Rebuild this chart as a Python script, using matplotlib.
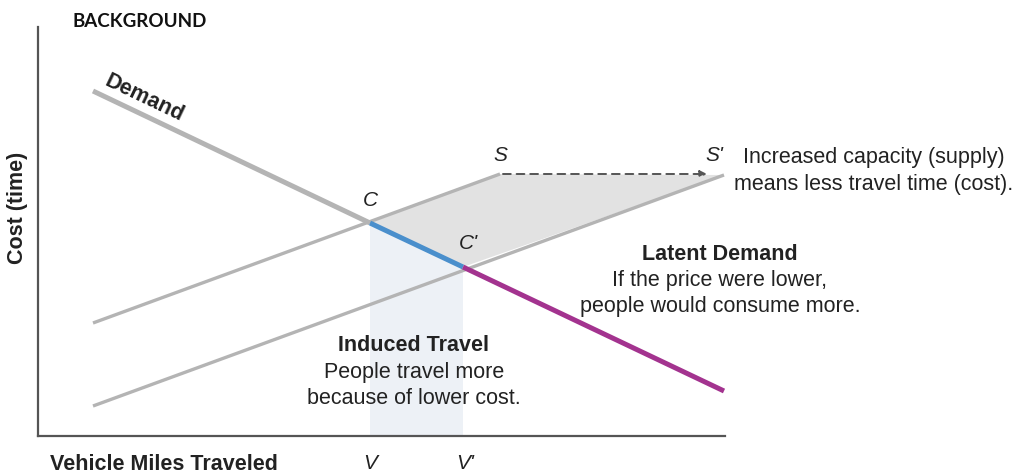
import matplotlib
matplotlib.use("Agg")
import matplotlib.pyplot as plt
from matplotlib.patches import Polygon

plt.rcParams['font.family'] = ['Liberation Sans', 'DejaVu Sans']

# --- diagram geometry (picture pixels, y grows downward)
demand_x = [93, 370, 463, 724]
demand_y = [92, 224, 268, 392]
supply_x = [93, 500]
supply_y = [324, 175]
supply2_x = [93, 724]
supply2_y = [407, 176]
point_labels = ["C", "C'", "S", "S'"]
vmt_labels = ["V", "V'"]

GRAY = "#b4b4b4"
BLUE = "#4a8fcc"
MAGENTA = "#a3338f"
TXT = "#222222"

W, H = 1023, 477
X0, X1, Y0, Y1 = 38, 725, 437, 28

fig = plt.figure(figsize=(W / 100, H / 100), dpi=100)
ax = fig.add_axes([X0 / W, (H - Y0) / H, (X1 - X0) / W, (Y0 - Y1) / H])
ax.set_xlim(X0, X1)
ax.set_ylim(Y0, Y1)
ax.set_xticks([])
ax.set_yticks([])
for s in ("top", "right"):
    ax.spines[s].set_visible(False)
for s in ("left", "bottom"):
    ax.spines[s].set_color("#555555")
    ax.spines[s].set_linewidth(1.6)

# light blue band under C-C'
ax.add_patch(Polygon([(demand_x[1], demand_y[1]), (demand_x[2], demand_y[2]),
                      (demand_x[2], Y0), (demand_x[1], Y0)],
                     closed=True, facecolor="#edf1f6", edgecolor="none", zorder=1))
# gray area between supply curves
ax.add_patch(Polygon([(demand_x[1], demand_y[1]), (supply_x[1], supply_y[1]),
                      (supply2_x[1], supply2_y[1]), (demand_x[2], demand_y[2])],
                     closed=True, facecolor="#e2e2e2", edgecolor="none", zorder=1))

ax.plot(supply_x, supply_y, color=GRAY, lw=2.4, solid_capstyle="butt", zorder=2)
ax.plot(supply2_x, supply2_y, color=GRAY, lw=2.4, solid_capstyle="butt", zorder=2)
ax.plot(demand_x[:2], demand_y[:2], color=GRAY, lw=3.6, solid_capstyle="butt", zorder=3)
ax.plot(demand_x[1:3], demand_y[1:3], color=BLUE, lw=3.6, solid_capstyle="butt", zorder=3)
ax.plot(demand_x[2:], demand_y[2:], color=MAGENTA, lw=3.6, solid_capstyle="butt", zorder=3)

ax.annotate("", xy=(707, supply_y[1]), xytext=(supply_x[1] + 3, supply_y[1]),
            arrowprops=dict(arrowstyle="-|>", linestyle=(0, (4, 3)), color="#555555",
                            lw=1.4, mutation_scale=10, shrinkA=0, shrinkB=0), zorder=4)

it = dict(style="italic", fontsize=15, color=TXT, ha="center", va="center", clip_on=False)
ax.text(370, 201, point_labels[0], **it)
ax.text(468, 244, point_labels[1], **it)
ax.text(500, 156, point_labels[2], **it)
ax.text(714, 156, point_labels[3], **it)
ax.text(370, 464, vmt_labels[0], **it)
ax.text(465, 464, vmt_labels[1], **it)

ax.text(101, 90, "Demand", rotation=-25.5, rotation_mode="anchor", fontsize=15.5,
        fontweight="bold", color=TXT, ha="left", va="bottom", clip_on=False)

body = dict(fontsize=15.5, color=TXT, ha="center", va="center", clip_on=False)
ax.text(874, 158, "Increased capacity (supply)", **body)
ax.text(874, 185, "means less travel time (cost).", **body)
ax.text(720, 255, "Latent Demand", fontweight="bold", **body)
ax.text(720, 281, "If the price were lower,", **body)
ax.text(720, 307, "people would consume more.", **body)
ax.text(414, 346, "Induced Travel", fontweight="bold", **body)
ax.text(414, 373, "People travel more", **body)
ax.text(414, 399, "because of lower cost.", **body)

ax.text(164, 465, "Vehicle Miles Traveled", fontsize=15.5, fontweight="bold", color=TXT,
        ha="center", va="center", clip_on=False)
ax.text(18, 208, "Cost (time)", rotation=90, fontsize=15.5, fontweight="bold", color=TXT,
        ha="center", va="center", clip_on=False)
ax.text(73, 22, "BACKGROUND", fontsize=13.5, fontweight="bold", color="#111111",
        family=["Lato", "DejaVu Sans"], ha="left", va="center", clip_on=False)

fig.savefig("out.png", dpi=100)
